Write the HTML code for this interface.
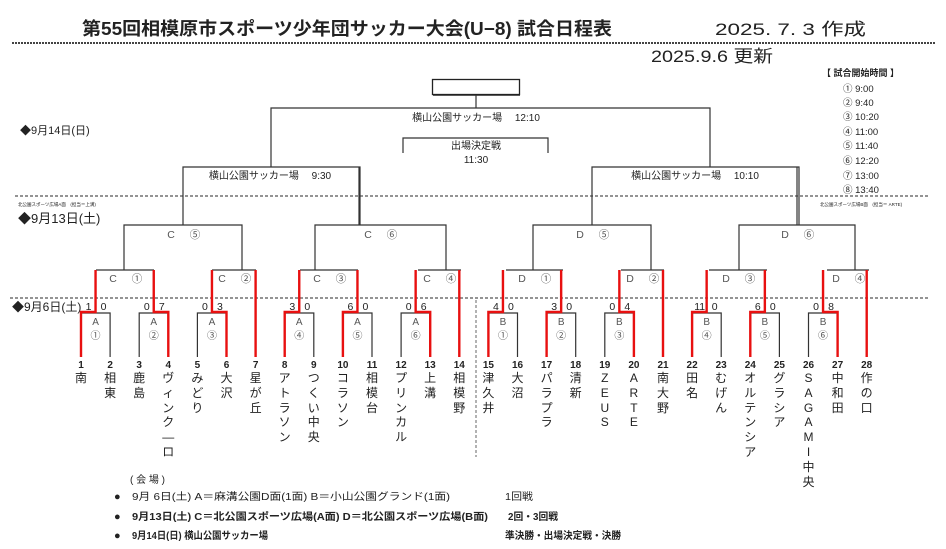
<!DOCTYPE html>
<html><head><meta charset="utf-8"><style>
html,body{margin:0;padding:0;background:#fff;width:946px;height:549px;overflow:hidden}
svg{display:block}
text{font-family:"Liberation Sans","Noto Sans CJK JP",sans-serif;fill:#222}
.g{fill:#555}
.nm{position:absolute;font-family:"Liberation Sans","Noto Sans CJK JP",sans-serif;font-size:12px;line-height:14.8px;width:14px;text-align:center;color:#222}
</style></head><body>
<div style="position:relative;width:946px;height:549px">
<svg width="946" height="549" xmlns="http://www.w3.org/2000/svg">
<text x="82" y="35" font-size="18" font-weight="bold" textLength="530" lengthAdjust="spacingAndGlyphs">第55回相模原市スポーツ少年団サッカー大会(U−8)  試合日程表</text>
<text x="715" y="35" font-size="17" textLength="151" lengthAdjust="spacingAndGlyphs">2025. 7. 3  作成</text>
<line x1="12" y1="43" x2="936" y2="43" stroke="#444" stroke-width="2" stroke-dasharray="2,1"/>
<text x="651" y="62" font-size="17" textLength="122" lengthAdjust="spacingAndGlyphs">2025.9.6 更新</text>
<text x="822" y="76" font-size="9" font-weight="bold">【  試合開始時間  】</text>
<g font-size="9.5">
<text x="843" y="92">①  9:00</text><text x="843" y="106">②  9:40</text><text x="843" y="120">③ 10:20</text><text x="843" y="135">④ 11:00</text><text x="843" y="149">⑤ 11:40</text><text x="843" y="164">⑥ 12:20</text><text x="843" y="179">⑦ 13:00</text><text x="843" y="193">⑧ 13:40</text>
</g>
<text x="20" y="134" font-size="11">◆9月14日(日)</text>
<text x="18" y="223" font-size="13">◆9月13日(土)</text>
<text x="12" y="311" font-size="12">◆9月6日(土)</text>
<text x="18" y="206" font-size="4.5">北公園スポーツ広場A面　(担当＝上溝)</text>
<text x="820" y="206" font-size="4.5">北公園スポーツ広場B面　(担当＝ ARTE)</text>
<line x1="15" y1="196" x2="930" y2="196" stroke="#555" stroke-width="1.3" stroke-dasharray="3,2"/>
<line x1="10" y1="298" x2="930" y2="298" stroke="#555" stroke-width="1.3" stroke-dasharray="3,2"/>
<line x1="476" y1="300" x2="476" y2="457" stroke="#666" stroke-width="1" stroke-dasharray="3,2"/>
<rect x="432.5" y="79.5" width="87" height="15" fill="#fff" stroke="#222" stroke-width="1.3"/>
<line x1="433" y1="95" x2="520" y2="95" stroke="#222" stroke-width="1.5"/>
<g stroke="#333" stroke-width="1.2" fill="none">
<path d="M476 95V108M271 167V108H710V167"/>
<path d="M403 153V138H548V153"/>
<path d="M183 225V167H360V225M592 225V167H799V225"/>
<path d="M124 270V225H242V270M315 270V225H446V270M359 225V167"/>
<path d="M533 270V225H651V270M739 270V225H855V270M797 225V167"/>
<path d="M96 270H154M212 270H256M300 270H358M418 270H461"/>
<path d="M506 270H563M621 270H664M709 270H767M827 270H869"/>
</g>
<g font-size="10">
<text x="476" y="121" text-anchor="middle">横山公園サッカー場　 12:10</text>
<text x="476" y="149" text-anchor="middle">出場決定戦</text>
<text x="476" y="163" text-anchor="middle">11:30</text>
<text x="270" y="179" text-anchor="middle">横山公園サッカー場　 9:30</text>
<text x="695" y="179" text-anchor="middle">横山公園サッカー場　 10:10</text>
</g>
<g id="br"></g>
</svg>
<div id="names"></div>
</div>
<script>
(function(){
var NS="http://www.w3.org/2000/svg",g=document.getElementById('br');
function X(i){return 81+(i-1)*29.1;}
function el(t,a,txt){var e=document.createElementNS(NS,t);for(var k in a)e.setAttribute(k,a[k]);if(txt!=null)e.textContent=txt;g.appendChild(e);return e;}
function line(d,red){el('path',{d:d,stroke:red?'#e81010':'#333','stroke-width':red?2.4:1.2,fill:'none'});}
var m=[[1,2,1,'A','①','1','0'],[3,4,4,'A','②','0','7'],[5,6,6,'A','③','0','3'],[8,9,8,'A','④','3','0'],[10,11,10,'A','⑤','6','0'],[12,13,13,'A','⑥','0','6'],
[15,16,15,'B','①','4','0'],[17,18,17,'B','②','3','0'],[19,20,20,'B','③','0','4'],[22,23,22,'B','④','11','0'],[24,25,24,'B','⑤','6','0'],[26,27,27,'B','⑥','0','8']];
m.forEach(function(r){var a=X(r[0]),b=X(r[1]),c=(a+b)/2,w=X(r[2]);
line('M'+a+' 357V313H'+b+'V357',false);
line('M'+w+' 357V312H'+c+'V270',true);
el('text',{x:c,y:325,'font-size':10,'text-anchor':'middle','class':'g'},r[3]);
el('text',{x:c,y:339,'font-size':10,'text-anchor':'middle','class':'g'},r[4]);
el('text',{x:c-7,y:310,'font-size':10.5,'text-anchor':'middle'},r[5]);
el('text',{x:c+8,y:310,'font-size':10.5,'text-anchor':'middle'},r[6]);
});
[7,14,21,28].forEach(function(i){line('M'+X(i)+' 357V270',true);});
var L=[['C','①',125],['C','②',234],['C','③',329],['C','④',439],['D','①',534],['D','②',642],['D','③',738],['D','④',848],
['C','⑤',183],['C','⑥',380],['D','⑤',592],['D','⑥',797]];
L.forEach(function(r,k){var y=k<8?282:238;
el('text',{x:r[2]-12,y:y,'font-size':10.5,'text-anchor':'middle','class':'g'},r[0]);
el('text',{x:r[2]+12,y:y,'font-size':10.5,'text-anchor':'middle','class':'g'},r[1]);});
for(var i=1;i<=28;i++)el('text',{x:X(i),y:368,'font-size':10,'font-weight':'bold','text-anchor':'middle'},String(i));
function t(x,y,s,o){var a={x:x,y:y,'font-size':10};for(var k in o)a[k]=o[k];el('text',a,s);}
t(130,483,'(  会  場  )');
t(114,500,'●',{'font-size':11});t(114,520,'●',{'font-size':11});t(114,539,'●',{'font-size':11});
t(132,500,'9月  6日(土)    A＝麻溝公園D面(1面)    B＝小山公園グランド(1面)',{textLength:318,lengthAdjust:'spacingAndGlyphs'});
t(132,520,'9月13日(土)   C＝北公園スポーツ広場(A面)  D＝北公園スポーツ広場(B面)',{'font-weight':'bold',textLength:356,lengthAdjust:'spacingAndGlyphs'});
t(132,539,'9月14日(日)    横山公園サッカー場',{'font-weight':'bold',textLength:136,lengthAdjust:'spacingAndGlyphs'});
t(505,500,'1回戦',{textLength:28,lengthAdjust:'spacingAndGlyphs'});
t(508,520,'2回・3回戦',{'font-weight':'bold',textLength:50,lengthAdjust:'spacingAndGlyphs'});
t(505,539,'準決勝・出場決定戦・決勝',{'font-weight':'bold',textLength:116,lengthAdjust:'spacingAndGlyphs'});
var names=['南','相東','鹿島','ヴィンク—ロ','みどり','大沢','星が丘','アトラソン','つくい中央','コラソン','相模台','プリンカル','上溝','相模野','津久井','大沼','パラプラ','清新','ZEUS','ARTE','南大野','田名','むげん','オルテンシア','グラシア','SAGAMI中央','中和田','作の口'];
var h='';names.forEach(function(n,k){h+='<div class="nm" style="left:'+(X(k+1)-7)+'px;top:371px">'+n.split('').join('<br>')+'</div>';});
document.getElementById('names').innerHTML=h;
})();
</script>
</body></html>
